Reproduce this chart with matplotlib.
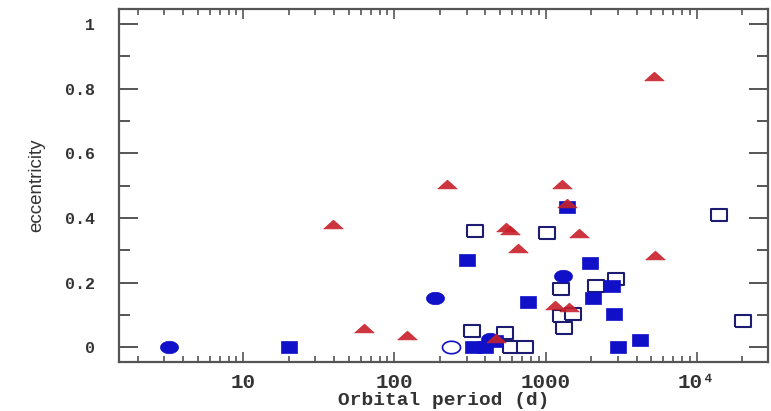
import numpy as np
import matplotlib
matplotlib.use('Agg')
import matplotlib.pyplot as plt
from matplotlib.ticker import FixedLocator, LogLocator, NullFormatter

# orbital period (d) and eccentricity for each group
sq_filled_P = [20, 304, 330, 400, 460, 760, 1377, 1955, 2060, 2760, 2850, 3000, 4200]
sq_filled_e = [0.0, 0.27, 0.0, 0.0, 0.02, 0.14, 0.433, 0.26, 0.152, 0.19, 0.102, 0.0, 0.022]

sq_open_P = [324, 339, 543, 587, 726, 1030, 1260, 1260, 1530, 1330, 2150, 2930, 14000, 20200]
sq_open_e = [0.05, 0.36, 0.043, 0.0, 0.0, 0.353, 0.18, 0.097, 0.103, 0.06, 0.19, 0.21, 0.41, 0.08]

circ_filled_P = [3.24, 187, 1297, 430]
circ_filled_e = [0.0, 0.152, 0.22, 0.025]

circ_open_P = [238]
circ_open_e = [0.0]

tri_P = [39.5, 63, 122, 224, 1276, 1377, 550, 580, 1656, 662, 5270, 5190, 1160, 1420, 470]
tri_e = [0.38, 0.059, 0.037, 0.505, 0.505, 0.446, 0.372, 0.362, 0.353, 0.306, 0.285, 0.839,
         0.13, 0.124, 0.028]

# flattened marker shapes
wide_sq = [(-1.45, -1), (1.45, -1), (1.45, 1), (-1.45, 1), (-1.45, -1)]
t = np.linspace(0, 2 * np.pi, 40)
wide_circ = list(zip(1.45 * np.cos(t), np.sin(t)))
flat_tri = [(-1, -0.45), (1, -0.45), (0, 0.45), (-1, -0.45)]

blue = '#1010c8'
navy = '#1c1c70'
red = '#c8202a'

fig = plt.figure(figsize=(7.71, 4.11), dpi=100)
ax = fig.add_axes([0.154, 0.119, 0.842, 0.859])

ax.plot(sq_open_P, sq_open_e, ls='none', marker=wide_sq, ms=11.5,
        mfc='white', mec=navy, mew=1.5)
ax.plot(circ_open_P, circ_open_e, ls='none', marker=wide_circ, ms=13,
        mfc='white', mec=blue, mew=1.2)
ax.plot(sq_filled_P, sq_filled_e, ls='none', marker=wide_sq, ms=11.5,
        mfc=blue, mec=blue, mew=0.5)
ax.plot(circ_filled_P, circ_filled_e, ls='none', marker=wide_circ, ms=13,
        mfc=blue, mec=blue, mew=0.5)
ax.plot(tri_P, tri_e, ls='none', marker=flat_tri, ms=14,
        mfc=red, mec=red, mew=0.5, alpha=0.9)

ax.set_xscale('log')
ax.set_xlim(1.5, 29600)
ax.set_ylim(-0.046, 1.046)

ax.xaxis.set_major_locator(FixedLocator([10, 100, 1000, 10000]))
ax.xaxis.set_minor_locator(LogLocator(base=10, subs=np.arange(2, 10)))
ax.xaxis.set_minor_formatter(NullFormatter())
ax.set_xticklabels(['10', '100', '1000', '10⁴'],
                   family=['Liberation Mono', 'DejaVu Sans'], fontsize=15, fontweight='bold')

ax.set_yticks([0, 0.2, 0.4, 0.6, 0.8, 1.0])
ax.set_yticks(np.arange(0.1, 1.0, 0.2), minor=True)
ax.set_yticklabels(['0', '0.2', '0.4', '0.6', '0.8', '1'],
                   family='Liberation Mono', fontsize=12, fontweight='bold')

edge = '#555555'
for s in ax.spines.values():
    s.set_color(edge)
    s.set_linewidth(1.6)

ax.tick_params(axis='y', which='both', direction='in', left=True, right=True,
               color=edge, width=1.4, labelcolor='#333333')
ax.tick_params(axis='y', which='major', length=14, pad=17)
ax.tick_params(axis='y', which='minor', length=8)
ax.tick_params(axis='x', which='both', direction='in', bottom=True, top=True,
               color=edge, width=1.2, labelcolor='#333333')
ax.tick_params(axis='x', which='major', length=7, pad=8)
ax.tick_params(axis='x', which='minor', length=4)

ax.set_xlabel('Orbital period (d)', family='Liberation Mono', fontsize=14,
              fontweight='bold', color='#333333', labelpad=0)
ax.set_ylabel('eccentricity', family='Liberation Sans', fontsize=13.5,
              color='#333333', labelpad=14)

fig.savefig('out.png', dpi=100)
